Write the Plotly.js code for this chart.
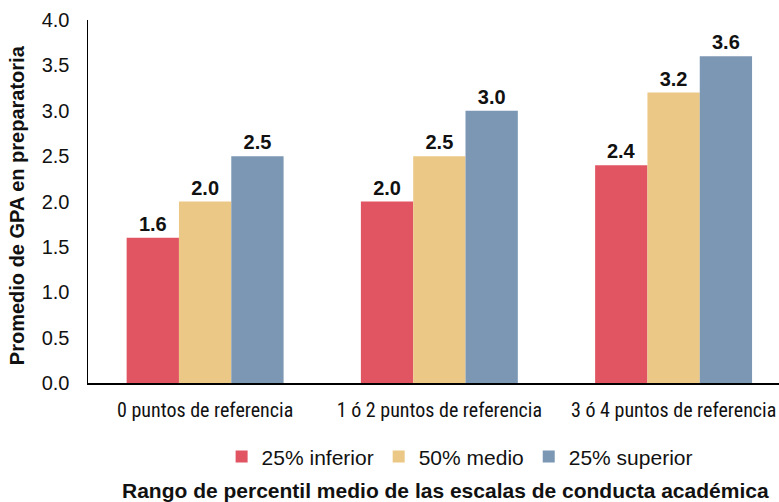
<!DOCTYPE html>
<html><head><meta charset="utf-8">
<script src="https://cdn.plot.ly/plotly-3.0.1.min.js"></script>
<style>html,body{margin:0;padding:0;background:#fff}#c{width:779px;height:502px}</style>
</head><body><div id="c"></div>
<script>
const categories = ["0 puntos de referencia", "1 ó 2 puntos de referencia", "3 ó 4 puntos de referencia"];
const seriesNames = ["25% inferior", "50% medio", "25% superior"];
const inferior = [1.6, 2.0, 2.4];
const medio = [2.0, 2.5, 3.2];
const superior = [2.5, 3.0, 3.6];
const yTicks = [0, 0.5, 1, 1.5, 2, 2.5, 3, 3.5, 4];
const colors = ["#E15563", "#EBC885", "#7B97B4"];
const vals = [inferior, medio, superior];
const FONT = "Liberation Sans, Arial, sans-serif";

const traces = vals.map((v, i) => ({
  type: "bar", x: categories, y: v, name: seriesNames[i],
  marker: {color: colors[i], line: {width: 0}},
  text: v.map(d => d.toFixed(1)), textposition: "outside", cliponaxis: false,
  textfont: {family: FONT, size: 20, color: "#111", weight: "bold"}
}));

const layout = {
  width: 779, height: 502,
  margin: {l: 88, r: 0, t: 20, b: 119},
  paper_bgcolor: "#fff", plot_bgcolor: "#fff",
  barmode: "group", bargap: 0.33, bargroupgap: 0,
  showlegend: true,
  legend: {orientation: "h", xref: "container", yref: "container", x: 0.59, y: 0.09,
    xanchor: "center", yanchor: "middle", itemwidth: 30, tracegroupgap: 0,
    font: {family: FONT, size: 21, color: "#111"}},
  xaxis: {showline: true, linecolor: "#000", linewidth: 1.5, ticks: "", showgrid: false,
    range: [-0.5, 2.45],
    tickangle: 0, automargin: false, ticklabelstandoff: 8,
    tickfont: {family: "Liberation Sans Narrow, Roboto Condensed, Arial Narrow, sans-serif", size: 20, color: "#111"}},
  yaxis: {range: [0, 4], tickvals: yTicks, ticktext: yTicks.map(t => t.toFixed(1)),
    showline: true, linecolor: "#000", linewidth: 1.5, ticks: "", showgrid: false, zeroline: false,
    automargin: false, ticklabelstandoff: 13,
    tickfont: {family: FONT, size: 20, color: "#111"}},
  annotations: [
    {text: "<b>Rango de percentil medio de las escalas de conducta académica</b>", xref: "paper", yref: "paper",
     x: 0.518, y: -0.2975, xanchor: "center", yanchor: "middle", showarrow: false,
     font: {family: FONT, size: 21, color: "#111"}},
    {text: "<b>Promedio de GPA en preparatoria</b>", xref: "paper", yref: "paper",
     x: -0.1027, y: 0.49, xanchor: "center", yanchor: "middle", showarrow: false, textangle: -90,
     font: {family: FONT, size: 20, color: "#111"}}
  ]
};
Plotly.newPlot("c", traces, layout, {displayModeBar: false, staticPlot: true});
</script></body></html>
